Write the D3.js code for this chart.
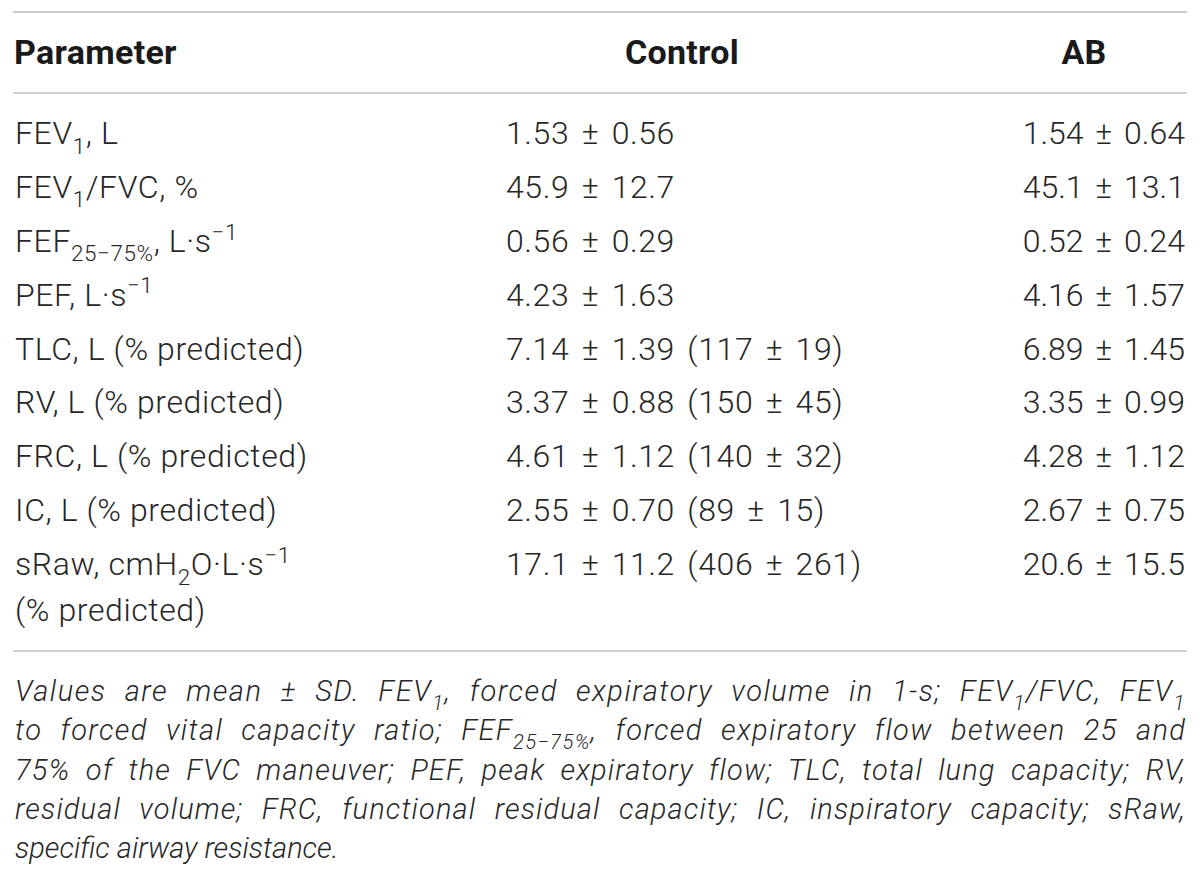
<!DOCTYPE html>
<html>
<head>
<meta charset="utf-8">
<script src="https://cdn.jsdelivr.net/npm/d3@7"></script>
<style>
  body { margin: 0; background: #fff; }
  svg text { font-family: Roboto, "Liberation Sans", sans-serif; }
</style>
</head>
<body>
<div id="table"></div>
<script>
// table content
var headers = ["Parameter", "Control", "AB"];
var params = [
    ["FEV_{1}, L"],
    ["FEV_{1}/FVC, %"],
    ["FEF_{25\u221275%}, L\u00b7s^{\u22121}"],
    ["PEF, L\u00b7s^{\u22121}"],
    ["TLC, L (% predicted)"],
    ["RV, L (% predicted)"],
    ["FRC, L (% predicted)"],
    ["IC, L (% predicted)"],
    ["sRaw, cmH_{2}O\u00b7L\u00b7s^{\u22121}", "(% predicted)"]
];
var decimals = [2, 1, 2, 2, 2, 2, 2, 2, 1];
var controlMean = [1.53, 45.9, 0.56, 4.23, 7.14, 3.37, 4.61, 2.55, 17.1];
var controlSD = [0.56, 12.7, 0.29, 1.63, 1.39, 0.88, 1.12, 0.70, 11.2];
var controlPctMean = [null, null, null, null, 117, 150, 140, 89, 406];
var controlPctSD = [null, null, null, null, 19, 45, 32, 15, 261];
var abMean = [1.54, 45.1, 0.52, 4.16, 6.89, 3.35, 4.28, 2.67, 20.6];
var abSD = [0.64, 13.1, 0.24, 1.57, 1.45, 0.99, 1.12, 0.75, 15.5];
var footnote = [
    "Values are mean \u00b1 SD. FEV_{1}, forced expiratory volume in 1-s; FEV_{1}/FVC, FEV_{1}",
    "to forced vital capacity ratio; FEF_{25\u221275%}, forced expiratory flow between 25 and",
    "75% of the FVC maneuver; PEF, peak expiratory flow; TLC, total lung capacity; RV,",
    "residual volume; FRC, functional residual capacity; IC, inspiratory capacity; sRaw,",
    "specific airway resistance."
];

var width = 1200, height = 885;
var left = 13, right = 1187;
var ink = "#262626";

var svg = d3.select("#table")
    .append("svg")
    .attr("width", width)
    .attr("height", height);

// split "a_{b}c^{d}" into segments
function parse(str) {
    var segs = [], re = /([_^])\{([^}]*)\}/g, last = 0, m;
    while ((m = re.exec(str)) !== null) {
        if (m.index > last) segs.push({t: str.slice(last, m.index), s: null});
        segs.push({t: m[2], s: m[1] == "_" ? "sub" : "sup"});
        last = re.lastIndex;
    }
    if (last < str.length) segs.push({t: str.slice(last), s: null});
    return segs;
}

function richText(sel, str, size) {
    var cur = 0;
    parse(str).forEach(function(seg) {
        var off = seg.s == "sub" ? size * 0.3 : seg.s == "sup" ? -size * 0.38 : 0;
        sel.append("tspan")
            .attr("dy", off - cur)
            .style("font-size", seg.s ? (size * 0.7) + "px" : null)
            .text(seg.t);
        cur = off;
    });
}

function plain(str) { return str.replace(/[_^]\{([^}]*)\}/g, "$1"); }
function fmt(v, d) { return v.toFixed(d); }

// rules
var rules = [12, 93, 651];
svg.selectAll("line.rule")
    .data(rules)
    .enter()
    .append("line")
    .attr("class", "rule")
    .attr("x1", left).attr("x2", right)
    .attr("y1", function(d) { return d; })
    .attr("y2", function(d) { return d; })
    .attr("stroke", "#cfcfcf")
    .attr("stroke-width", 2);

var fs = 32;
var colX = d3.scaleOrdinal().domain(headers).range([14, 682, 1084]);

// header
svg.selectAll("text.head")
    .data(headers)
    .enter()
    .append("text")
    .attr("class", "head")
    .attr("x", function(d) { return colX(d); })
    .attr("y", 64)
    .attr("text-anchor", function(d, i) { return i == 0 ? "start" : "middle"; })
    .style("font-size", "34px")
    .style("font-weight", 700)
    .style("letter-spacing", "0.3px")
    .attr("fill", "#1a1a1a")
    .text(function(d) { return d; });

// rows
var y = d3.scalePoint()
    .domain(d3.range(params.length))
    .range([133, 564]);
var lineGap = 46;

function cell(x, yy, anchor) {
    return svg.append("text")
        .attr("x", x)
        .attr("y", yy)
        .attr("text-anchor", anchor)
        .style("font-size", fs + "px")
        .style("font-weight", 300)
        .style("letter-spacing", "0.6px")
        .attr("fill", ink);
}

params.forEach(function(lines, i) {
    lines.forEach(function(ln, j) {
        richText(cell(15, y(i) + 11 + j * lineGap, "start"), ln, fs);
    });

    var c = fmt(controlMean[i], decimals[i]) + " \u00b1 " + fmt(controlSD[i], decimals[i]);
    if (controlPctMean[i] != null) c += " (" + controlPctMean[i] + " \u00b1 " + controlPctSD[i] + ")";
    cell(506, y(i) + 11, "start")
        .style("word-spacing", "4px")
        .text(c);

    cell(1185, y(i) + 11, "end")
        .style("word-spacing", "4px")
        .style("letter-spacing", null)
        .text(fmt(abMean[i], decimals[i]) + " \u00b1 " + fmt(abSD[i], decimals[i]));
});

// footnote, justified: half the slack to letters, half to word gaps
var ffs = 29;
var fy = d3.scalePoint().domain(d3.range(footnote.length)).range([691, 848]);
footnote.forEach(function(ln, i) {
    var t = svg.append("text")
        .attr("x", 15)
        .attr("y", fy(i) + 10)
        .style("font-size", ffs + "px")
        .style("font-style", "italic")
        .style("font-weight", 300)
        .attr("fill", ink);
    richText(t, ln, ffs);
    if (i < footnote.length - 1) {
        var w = t.node().getComputedTextLength();
        var txt = plain(ln);
        var slack = 1186 - 15 - w;
        var spaces = txt.split(" ").length - 1;
        t.style("letter-spacing", (slack / 2 / txt.length) + "px")
            .style("word-spacing", (slack / 2 / spaces) + "px");
    }
});
</script>
</body>
</html>
